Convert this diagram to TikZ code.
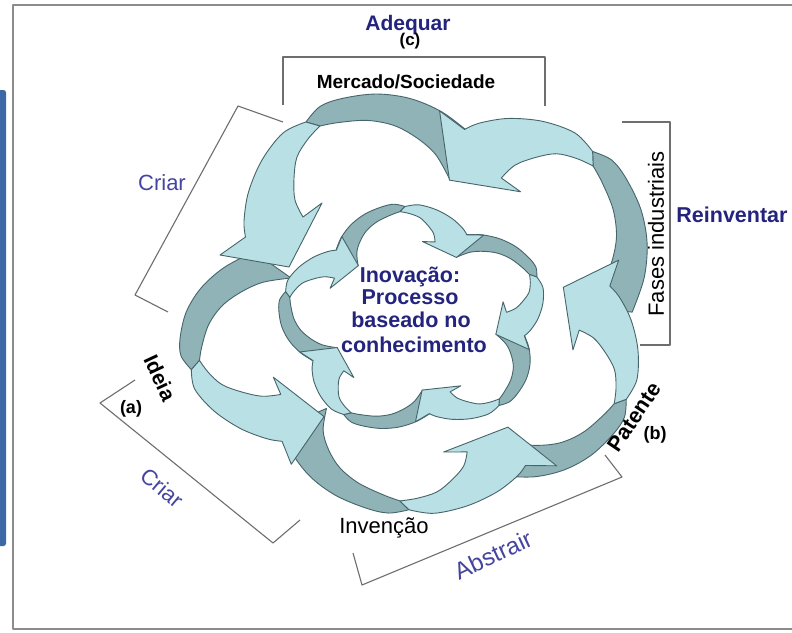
\documentclass[tikz,border=0pt]{standalone}
\usepackage{fontspec}
\setmainfont{Liberation Sans}
\definecolor{ltc}{HTML}{B8E0E5}
\definecolor{dkc}{HTML}{8FB3B6}
\definecolor{edgec}{HTML}{46656A}
\definecolor{navy}{HTML}{24247E}
\definecolor{lnavy}{HTML}{4545A0}
\definecolor{framec}{HTML}{8C8C8C}
\definecolor{barblue}{HTML}{3D68A6}
\definecolor{brkc}{HTML}{6E6E6E}
\tikzset{
  dk/.style={fill=dkc, draw=edgec, line width=0.9pt},
  lt/.style={fill=ltc, draw=edgec, line width=0.9pt},
  brk/.style={draw=brkc, line width=1.1pt},
  lab/.style={inner sep=0pt, anchor=base},
  tfD/.style={shift={(429,334)}, rotate=-72, shift={(-429,-334)}},
  tfF/.style={shift={(0,-22)}, shift={(429,334)}, scale=0.88, rotate=-144, shift={(-429,-334)}},
  tfE/.style={shift={(5,-12)}, shift={(429,334)}, yscale=0.77, rotate=-216, shift={(-429,-334)}},
  tfB/.style={shift={(2,-4)}, shift={(429,334)}, yscale=0.77, rotate=-288, shift={(-429,-334)}},
  tfI/.style={shift={(414,319)}, xscale=0.54, yscale=0.46, rotate=34, shift={(-429,-334)}},
}
\newcommand\Adark{%
  \filldraw[dk] plot[smooth,tension=.55] coordinates {(471,134) (442,112) (410,98.5) (376,94) (342,98.5) (320,106.5) (306,122)}
    -- plot[smooth,tension=.55] coordinates {(320,126) (338,122.6) (367,120.4) (394,125.5) (417,138) (436,155) (450,180)} -- cycle;}
\newcommand\Alight{%
  \filldraw[lt] plot[smooth,tension=.55] coordinates {(306,122) (283,133) (262,160) (248.5,192) (244,221) (245.5,237)}
    -- (220,255) -- (289,267) -- (322,203)
    -- plot[smooth,tension=.55] coordinates {(303,217) (295,200) (294,178.5) (297,157) (308,139) (320,126)} -- cycle;}
\begin{document}
\begin{tikzpicture}[x=1pt,y=-1pt,line join=round]
\useasboundingbox (0,0) rectangle (792,632);
\fill[white] (0,0) rectangle (792,632);
% frame and side bar
\draw[framec, line width=1.4pt] (800,5) -- (13,5) -- (13,629) -- (800,629);
\fill[barblue, rounded corners=2.5pt] (-6,90) rectangle (6,546);
% brackets
\draw[brk] (283,105) -- (283,57) -- (545,57) -- (545,106);
\draw[brk] (283,122) -- (238,106) -- (135,295) -- (168,312);
\draw[brk] (135,380) -- (100,403) -- (273,543) -- (300,520);
\draw[brk] (353,553) -- (362,585) -- (622,477) -- (605,455);
\draw[brk] (622,122) -- (670,122) -- (670,345) -- (640,345);
% outer ring: tails first, then bodies with heads
\begin{scope}\Adark\end{scope}
\begin{scope}[tfD]\Adark\end{scope}
\begin{scope}[tfF]\Adark\end{scope}
\begin{scope}[tfE]\Adark\end{scope}
\begin{scope}[tfB]\Adark\end{scope}
\begin{scope}\Alight\end{scope}
\begin{scope}[tfD]\Alight\end{scope}
\begin{scope}[tfF]\Alight\end{scope}
\begin{scope}[tfE]\Alight\end{scope}
\begin{scope}[tfB]\Alight\end{scope}
% inner ring (mirrored, clockwise)
\begin{scope}[tfI]
  \foreach \k in {0,...,4}{\begin{scope}[rotate around={-72*\k:(429,334)}, shift={(858,0)}, xscale=-1]\Adark\end{scope}}
  \foreach \k in {0,...,4}{\begin{scope}[rotate around={-72*\k:(429,334)}, shift={(858,0)}, xscale=-1]\Alight\end{scope}}
\end{scope}
% labels
\node[lab, font=\bfseries\fontsize{21}{21}\selectfont, text=navy] (adequar) at (408,30) {Adequar};
\node[lab, font=\bfseries\fontsize{17}{17}\selectfont] (c) at (410,45) {(c)};
\node[lab, font=\bfseries\fontsize{19}{19}\selectfont] (mercado) at (406,88) {Mercado/Sociedade};
\node[lab, font=\fontsize{22}{22}\selectfont, text=lnavy] (criar1) at (162,190) {Criar};
\node[lab, font=\bfseries\fontsize{21.5}{21.5}\selectfont, text=navy] (reinv) at (732,222) {Reinventar};
\node[inner sep=0pt, rotate=90, font=\fontsize{22}{22}\selectfont] (fases) at (656,234) {Fases industriais};
\node[inner sep=0pt, rotate=-65, font=\bfseries\fontsize{21}{21}\selectfont] (ideia) at (160,378) {Ideia};
\node[lab, font=\bfseries\fontsize{18}{18}\selectfont] (a) at (131,413) {(a)};
\node[inner sep=0pt, rotate=-40, font=\fontsize{22}{22}\selectfont, text=lnavy] (criar2) at (162,488) {Criar};
\node[lab, font=\fontsize{22}{22}\selectfont] (invencao) at (384,533) {Invenção};
\node[inner sep=0pt, rotate=25, font=\fontsize{24}{24}\selectfont, text=lnavy] (abstrair) at (493,555) {Abstrair};
\node[inner sep=0pt, rotate=56, font=\bfseries\fontsize{21.5}{21.5}\selectfont] (patente) at (634,417) {Patente};
\node[lab, font=\bfseries\fontsize{18}{18}\selectfont] (b) at (655,439) {(b)};
\node[lab, font=\bfseries\fontsize{21.5}{21.5}\selectfont, text=navy] (ctr1) at (410,282) {Inovação:};
\node[lab, font=\bfseries\fontsize{21.5}{21.5}\selectfont, text=navy] (ctr2) at (410,304) {Processo};
\node[lab, font=\bfseries\fontsize{21.5}{21.5}\selectfont, text=navy] (ctr3) at (411,327) {baseado no};
\node[lab, font=\bfseries\fontsize{21.5}{21.5}\selectfont, text=navy] (ctr4) at (414,352) {conhecimento};
\end{tikzpicture}
\end{document}
